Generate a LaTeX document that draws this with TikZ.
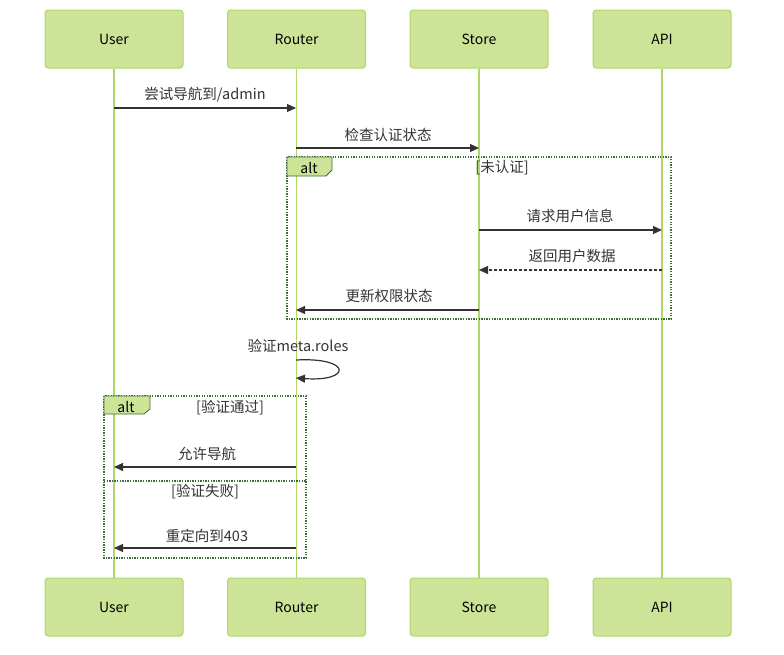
\documentclass[tikz,border=0pt]{standalone}
\usepackage{fontspec}
\setmainfont{Noto Sans CJK SC}
\usetikzlibrary{arrows.meta}
\definecolor{actfill}{HTML}{CDE498}
\definecolor{actline}{HTML}{B0D66A}
\definecolor{frame}{HTML}{3A6E35}
\definecolor{txt}{HTML}{333333}
\tikzset{
  actor/.style={draw=actline, fill=actfill, line width=1pt, rounded corners=3pt,
    minimum width=138pt, minimum height=58pt, inner sep=0pt,
    font=\fontsize{14}{16}\selectfont, text=black},
  life/.style={draw=actline, line width=1.8pt},
  msg/.style={draw=txt, line width=1.2pt, -{Triangle[length=9pt,width=8pt]}},
  reply/.style={msg, dash pattern=on 3pt off 2pt},
  mlabel/.style={font=\fontsize{14.5}{16}\selectfont, text=txt, inner sep=0pt},
  altbox/.style={draw=frame, line width=1.3pt, dash pattern=on 1.3pt off 1.3pt},
  alttab/.style={draw=frame, fill=actfill, line width=0.8pt},
  alttxt/.style={font=\fontsize{14}{16}\selectfont, text=black, inner sep=0pt},
  guard/.style={font=\fontsize{14.5}{16}\selectfont, text=txt, inner sep=0pt},
}
\begin{document}
\begin{tikzpicture}[x=1pt, y=-1pt]
\useasboundingbox (0,0) rectangle (784,654);
% actors
\node[actor] (uT) at (114,39) {User};
\node[actor] (rT) at (296.5,39) {Router};
\node[actor] (sT) at (479,39) {Store};
\node[actor] (aT) at (662,39) {API};
\node[actor] (uB) at (114,607) {User};
\node[actor] (rB) at (296.5,607) {Router};
\node[actor] (sB) at (479,607) {Store};
\node[actor] (aB) at (662,607) {API};
% lifelines
\draw[life] (uT.south) -- (uB.north);
\draw[life] (rT.south) -- (rB.north);
\draw[life] (sT.south) -- (sB.north);
\draw[life] (aT.south) -- (aB.north);
% alt frame 1
\draw[altbox] (287,157) rectangle (671,319);
\draw[alttab] (287,157) -- (332,157) -- (332,170) -- (326,176) -- (287,176) -- cycle;
\node[alttxt] (alt1) at (309,168) {alt};
\node[guard] (g1) at (502,168) {[未认证]};
% alt frame 2
\draw[altbox] (104,396) rectangle (306,558);
\draw[altbox] (104,481) -- (306,481);
\draw[alttab] (104,396) -- (150,396) -- (150,409) -- (144,414) -- (104,414) -- cycle;
\node[alttxt] (alt2) at (126,407) {alt};
\node[guard] (g2) at (230,408) {[验证通过]};
\node[guard] (g3) at (205,492) {[验证失败]};
% message points
\coordinate (m1a) at (114,108); \coordinate (m1b) at (296,108);
\coordinate (m2a) at (296,148); \coordinate (m2b) at (479,148);
\coordinate (m3a) at (479,230); \coordinate (m3b) at (662,230);
\coordinate (m4a) at (662,270); \coordinate (m4b) at (479,270);
\coordinate (m5a) at (479,310); \coordinate (m5b) at (296,310);
\coordinate (m6a) at (296,360); \coordinate (m6b) at (296,378);
\coordinate (m7a) at (296,467); \coordinate (m7b) at (114,467);
\coordinate (m8a) at (296,548); \coordinate (m8b) at (114,548);
% messages
\draw[msg] (m1a) -- (m1b);
\node[mlabel] (l1) at (205,95) {尝试导航到/admin};
\draw[msg] (m2a) -- (m2b);
\node[mlabel] (l2) at (388,135) {检查认证状态};
\draw[msg] (m3a) -- (m3b);
\node[mlabel] (l3) at (570,216) {请求用户信息};
\draw[reply] (m4a) -- (m4b);
\node[mlabel] (l4) at (572,256) {返回用户数据};
\draw[msg] (m5a) -- (m5b);
\node[mlabel] (l5) at (389,296) {更新权限状态};
\draw[msg] (m6a) .. controls (352,357) and (352,382) .. (m6b);
\node[mlabel] (l6) at (298,346) {验证meta.roles};
\draw[msg] (m7a) -- (m7b);
\node[mlabel] (l7) at (207,454) {允许导航};
\draw[msg] (m8a) -- (m8b);
\node[mlabel] (l8) at (207,536) {重定向到403};
\end{tikzpicture}
\end{document}
